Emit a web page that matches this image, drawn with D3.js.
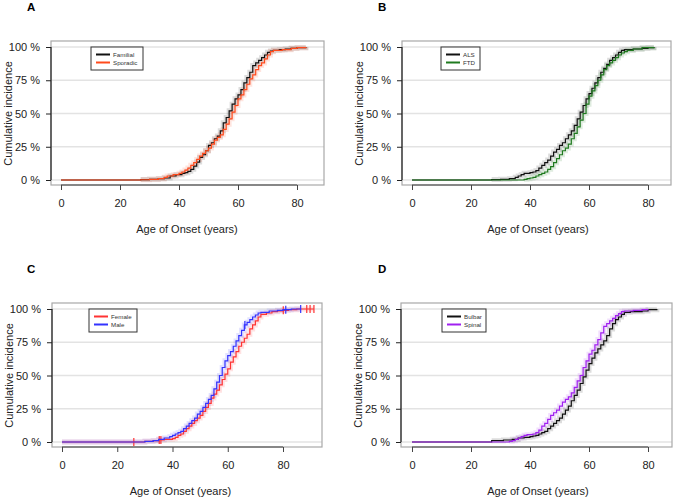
<!DOCTYPE html>
<html>
<head>
<meta charset="utf-8">
<script src="https://cdn.jsdelivr.net/npm/d3@7"></script>
<style>
  body { margin: 0; background: #fff; }
  svg { font-family: "Liberation Sans", Arial, sans-serif; }
</style>
</head>
<body>
<svg id="chart" width="675" height="501"></svg>
<script>
// step data: [age, cumulative %]
var familial = [[0,0],[27,0.3],[30,0.5],[33,1],[35,1.5],[37,3],[39,4],[41,5],[42,5.5],[43,6.5],[44,8],[45,10.5],[46,13.5],[47,17],[48,19],[49,22],[50,26],[51,28],[52,31],[53,33],[54,37],[55,43],[56,47],[57,52],[58,57],[59,61],[60,64],[61,68],[62,73],[63,77],[64,81],[65,86],[66,88],[67,90],[68,92],[69,94],[70,96],[71,97],[72,97.5],[74,98],[76,98.5],[78,99],[80,99.5],[83,100]];
var sporadic = [[0,0],[27,0.2],[30,0.5],[33,1],[35,2],[36,3],[38,4],[40,5],[41,6],[42,7.5],[43,9],[44,11],[45,13],[46,15.5],[47,18],[48,20],[49,22],[50,24],[51,27],[52,30],[53,32],[54,34],[55,38],[56,42],[57,46],[58,51],[59,56],[60,61],[61,64],[62,68],[63,72],[64,76],[65,79],[66,83],[67,86],[68,88],[69,91],[70,94],[71,96.5],[72,97.5],[75,98],[78,99],[80,99.5],[83,100]];

var als = [[0,0],[27,0.3],[30,0.5],[33,1],[35,2],[36,3],[37,4],[38,5],[40,5.5],[41,6],[42,7],[43,9],[44,11],[45,13],[46,15],[47,18],[48,21],[49,23],[50,26],[51,28],[52,31],[53,34],[54,37],[55,41],[56,46],[57,51],[58,56],[59,61],[60,65],[61,69],[62,73],[63,77],[64,81],[65,84],[66,87],[67,90],[68,92],[69,94],[70,96],[71,97.5],[72,98],[75,98.5],[78,99],[80,99.5],[82,100]];
var ftd = [[0,0],[38,0.5],[39,1],[40,1.5],[41,2],[42,3],[43,4],[44,5],[45,6],[46,8],[47,10],[48,13],[49,16],[50,19],[51,22],[52,24],[53,27],[54,31],[55,35],[56,40],[57,45],[58,50],[59,57],[60,63],[61,67],[62,71],[63,75],[64,79],[65,83],[66,86],[67,88],[68,90],[69,92],[70,94],[71,95.5],[72,96.5],[73,97.5],[75,98.5],[78,99.5],[82,100]];

var female = [[0,0],[30,0.5],[33,1],[35,1.5],[37,2],[40,2.5],[41,3.5],[42,5],[43,6],[44,8],[45,10],[46,12],[47,14],[48,16],[49,18],[50,20],[51,23],[52,26],[53,29],[54,33],[55,36],[56,39],[57,43],[58,47],[59,51],[60,55],[61,60],[62,64],[63,68],[64,72],[65,75],[66,78],[67,81],[68,85],[69,88],[70,91],[71,94],[72,96],[74,97],[76,98],[78,98.5],[80,99],[82,99.5],[85,100],[91.2,100]];
var male = [[0,0],[30,0.5],[33,1],[35,2],[37,3],[39,4],[40,5],[41,6],[42,7],[43,8],[44,10],[45,12],[46,14],[47,16],[48,18],[49,21],[50,23],[51,26],[52,29],[53,32],[54,35],[55,40],[56,45],[57,50],[58,56],[59,61],[60,65],[61,68],[62,72],[63,76],[64,80],[65,84],[66,88],[67,90],[68,92],[69,94],[70,95.5],[71,97],[72,97.5],[75,98.5],[78,99],[80,99.5],[83,100],[86.4,100]];
var femaleCensor = [26, 35.2, 35.8, 80.1, 88.6, 89.8, 91.2];
var maleCensor = [66.2, 81, 86.4];

var bulbar = [[0,0],[27,1],[31,1.5],[34,2],[36,3],[38,3.5],[40,4],[41,4.5],[42,5],[43,6],[44,7],[45,8],[46,10],[47,12],[48,14],[49,16],[50,18],[51,21],[52,24],[53,27],[54,31],[55,35],[56,39],[57,44],[58,49],[59,54],[60,59],[61,63],[62,67],[63,70],[64,73],[65,76],[66,80],[67,85],[68,89],[69,92],[70,94],[71,96],[72,97.5],[74,98],[78,98.5],[80,99.5],[83,100]];
var spinal = [[0,0],[33,0.5],[34,1],[35,2],[36,3],[37,4],[38,5],[39,5.5],[41,6],[42,7],[43,9],[44,12],[45,14],[46,17],[47,20],[48,22],[49,24],[50,27],[51,30],[52,32],[53,34],[54,37],[55,41],[56,46],[57,50],[58,56],[59,61],[60,66],[61,69],[62,73],[63,77],[64,82],[65,87],[66,89],[67,91],[68,93],[69,95],[70,96.5],[71,98],[72,98.5],[75,99],[78,99.5],[80,100]];

var xTicks = [0, 20, 40, 60, 80];
var yTicks = [0, 25, 50, 75, 100];

var svg = d3.select("#chart");

var panels = [
  {letter: "A", lx: 27, ly: 11, box: [51, 41, 324, 185], xr: [61, 297], yr: [180, 47], bandAtZero: false,
   series: [{name: "Familial", data: familial, color: "#111111"},
            {name: "Sporadic", data: sporadic, color: "#ff4a1c"}],
   legend: [91, 47, 52, 23]},
  {letter: "B", lx: 378, ly: 11, box: [402, 41, 671, 185], xr: [412, 648], yr: [180, 47], bandAtZero: false,
   series: [{name: "ALS", data: als, color: "#111111"},
            {name: "FTD", data: ftd, color: "#1f7a1f"}],
   legend: [441, 47, 39, 23]},
  {letter: "C", lx: 27, ly: 273, box: [52, 303, 322, 447], xr: [62, 283], yr: [442, 309], bandAtZero: true,
   series: [{name: "Female", data: female, color: "#ff3333", censor: femaleCensor},
            {name: "Male", data: male, color: "#3333ff", censor: maleCensor}],
   legend: [89, 309, 48, 23]},
  {letter: "D", lx: 378, ly: 273, box: [401, 303, 672, 447], xr: [412, 648], yr: [442, 309], bandAtZero: false,
   series: [{name: "Bulbar", data: bulbar, color: "#111111"},
            {name: "Spinal", data: spinal, color: "#a020f0"}],
   legend: [442, 309, 44, 23]}
];

panels.forEach(function(p) {
  var g = svg.append("g");
  var x = d3.scaleLinear().domain([0, 80]).range(p.xr);
  var y = d3.scaleLinear().domain([0, 100]).range(p.yr);
  var b = p.box;

  // panel letter
  g.append("text")
    .attr("x", p.lx).attr("y", p.ly)
    .attr("font-size", "11.5px").attr("font-weight", "bold")
    .text(p.letter);

  // grid lines
  g.selectAll(".grid").data(yTicks).enter().append("line")
    .attr("x1", b[0]).attr("x2", b[2])
    .attr("y1", d => y(d)).attr("y2", d => y(d))
    .attr("stroke", "#e3e3e3").attr("stroke-width", 1.5);

  // box
  g.append("rect")
    .attr("x", b[0]).attr("y", b[1])
    .attr("width", b[2] - b[0]).attr("height", b[3] - b[1])
    .attr("fill", "none").attr("stroke", "#a8a8a8").attr("stroke-width", 1.2);

  // bands + step lines
  var line = d3.line().x(d => x(d[0])).y(d => y(d[1])).curve(d3.curveStepAfter);
  p.series.forEach(function(s) {
    var pts = p.bandAtZero ? s.data : s.data.slice(1);
    g.append("path").attr("d", line(pts))
      .attr("fill", "none").attr("stroke", s.color)
      .attr("stroke-opacity", 0.14).attr("stroke-width", 5);
  });
  p.series.forEach(function(s) {
    g.append("path").attr("d", line(s.data))
      .attr("fill", "none").attr("stroke", s.color).attr("stroke-width", 1.2);
    if (s.censor) {
      var bis = d3.bisector(d => d[0]).right;
      g.selectAll(null).data(s.censor).enter().append("line")
        .attr("x1", d => x(d)).attr("x2", d => x(d))
        .attr("y1", d => y(s.data[bis(s.data, d) - 1][1]) - 4)
        .attr("y2", d => y(s.data[bis(s.data, d) - 1][1]) + 4)
        .attr("stroke", s.color).attr("stroke-width", 1.2);
    }
  });

  // x axis
  var xa = g.append("g")
    .attr("transform", "translate(0," + b[3] + ")")
    .call(d3.axisBottom(x).tickValues(xTicks).tickSize(5).tickPadding(9));
  xa.select(".domain").remove();
  xa.append("line").attr("x1", x(0)).attr("x2", x(80))
    .attr("stroke", "#444").attr("stroke-width", 1.2);
  xa.selectAll("line").attr("stroke", "#444");
  xa.selectAll("text").attr("font-size", "11px").attr("fill", "#222")
    .attr("font-family", "Liberation Sans, Arial, sans-serif");

  // y axis
  var ya = g.append("g")
    .attr("transform", "translate(" + b[0] + ",0)")
    .call(d3.axisLeft(y).tickValues(yTicks).tickSize(5).tickPadding(6).tickFormat(d => d + " %"));
  ya.select(".domain").remove();
  ya.append("line").attr("y1", y(0)).attr("y2", y(100))
    .attr("stroke", "#222").attr("stroke-width", 1.2);
  ya.selectAll("line").attr("stroke", "#222");
  ya.selectAll("text").attr("font-size", "11px").attr("fill", "#222")
    .attr("font-family", "Liberation Sans, Arial, sans-serif");

  // axis titles
  g.append("text")
    .attr("x", (x(0) + x(80)) / 2 + 8).attr("y", b[3] + 48)
    .attr("text-anchor", "middle").attr("font-size", "11px").attr("fill", "#222")
    .text("Age of Onset (years)");
  g.append("text")
    .attr("transform", "translate(" + (b[0] - 39) + "," + ((y(0) + y(100)) / 2) + ") rotate(-90)")
    .attr("text-anchor", "middle").attr("font-size", "11px").attr("fill", "#222")
    .text("Cumulative incidence");

  // legend
  var L = p.legend;
  var lg = g.append("g").attr("transform", "translate(" + L[0] + "," + L[1] + ")");
  lg.append("rect").attr("width", L[2]).attr("height", L[3])
    .attr("fill", "#fff").attr("stroke", "#333").attr("stroke-width", 1);
  p.series.forEach(function(s, i) {
    var yy = 7.5 + i * 8;
    lg.append("line").attr("x1", 5).attr("x2", 19).attr("y1", yy).attr("y2", yy)
      .attr("stroke", s.color).attr("stroke-width", 2);
    lg.append("text").attr("x", 22).attr("y", yy + 2.2)
      .attr("font-size", "6.2px").attr("fill", "#333").text(s.name);
  });
});
</script>
</body>
</html>
